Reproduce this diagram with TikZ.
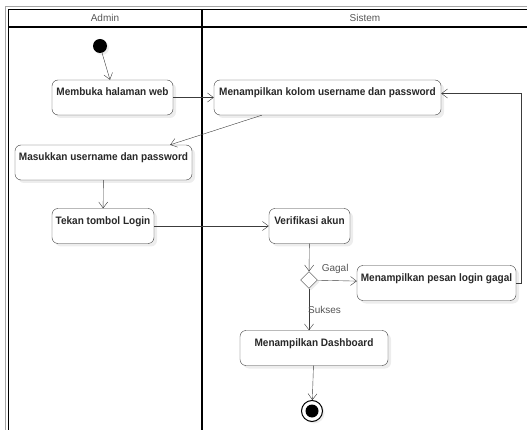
\documentclass[tikz,border=0pt]{standalone}
\usepackage{fontspec}
\setmainfont{Liberation Sans}
\newfontfamily\actfont[FakeStretch=0.93]{Liberation Sans}
\usetikzlibrary{shapes.geometric,shadows,arrows.meta}

\begin{document}
\begin{tikzpicture}[x=1pt, y=-1pt,
  act/.style={draw=linegray, rounded corners=6pt, fill=white, text=textgray,
    font=\actfont\bfseries\fontsize{10.8}{12}\selectfont, inner xsep=3pt, inner ysep=8pt,
    text height=7.7pt, text depth=11.3pt, minimum height=35pt,
    drop shadow={shadow xshift=3pt, shadow yshift=-3pt, fill=black!7, opacity=1}},
  flow/.style={draw=linegray, -{Straight Barb[length=6pt, width=9pt]}},
  lane/.style={draw=black, line width=1.2pt},
  guard/.style={font=\fontsize{10}{12}\selectfont, text=guardgray}
]

% Colours of the drawing
\definecolor{linegray}{RGB}{60,60,60}
\definecolor{textgray}{RGB}{40,40,40}
\definecolor{guardgray}{RGB}{85,85,85}

\useasboundingbox (0,0) rectangle (527,430);

% Swimlanes (frame cut off at right and bottom)
\draw[gray!70, line width=0.8pt] (5,430) -- (5,6) -- (527,6);
\draw[lane] (8.5,430) -- (8.5,9.5) -- (527,9.5);
\draw[lane] (8.5,27) -- (527,27);
\draw[lane] (202,9.5) -- (202,430);
\node[guard] (adminlane) at (105,18) {Admin};
\node[guard] (sistemlane) at (365,18) {Sistem};

% Start and end
\node[circle, fill=black, minimum size=14pt, inner sep=0pt,
  drop shadow={shadow xshift=2pt, shadow yshift=-2pt, fill=black!7, opacity=1}] (init) at (100,46) {};
\node[circle, draw=black, line width=1pt, fill=white, minimum size=21pt, inner sep=0pt,
  drop shadow={shadow xshift=2pt, shadow yshift=-2pt, fill=black!7, opacity=1},
  path picture={\fill[black] (path picture bounding box.center) circle (6.5pt);}] (final) at (312,411) {};

% Activities
\node[act, minimum width=121pt] (membuka) at (112.5,97.5) {Membuka halaman web};
\node[act, minimum width=227pt] (kolom) at (327.5,97.5) {Menampilkan kolom username dan password};
\node[act, minimum width=177pt] (masuk) at (103.5,162.5) {Masukkan username dan password};
\node[act, minimum width=102pt] (tekan) at (103,226) {Tekan tombol Login};
\node[act, minimum width=81pt] (verif) at (309.5,226) {Verifikasi akun};
\node[act, minimum width=159pt] (pesan) at (436.5,283) {Menampilkan pesan login gagal};
\node[act, minimum width=148pt] (dash) at (314,348) {Menampilkan Dashboard};

% Decision
\node[diamond, draw=linegray, fill=white, minimum size=17pt, inner sep=0pt,
  drop shadow={shadow xshift=2pt, shadow yshift=-2pt, fill=black!7, opacity=1}] (dia) at (309,280) {};

% Flows
\draw[flow] (init) -- ([xshift=-2.5pt]membuka.north);
\draw[flow] (membuka) -- (kolom);
\draw[flow] ([xshift=48pt]kolom.south west) -- ([xshift=-22pt]masuk.north east);
\draw[flow] (masuk) -- (tekan);
\draw[flow] (tekan) -- (verif);
\draw[flow] (verif) -- (dia);
\draw[flow] (dia) -- node[guard, above=4pt, pos=0.45] {Gagal} (pesan);
\draw[flow] (dia.south) -- node[guard, right, inner sep=0pt, pos=0.5, xshift=-1pt] {Sukses} (dia.south |- dash.north);
\draw[flow] (dash) -- (final);
\draw[flow] (pesan.east) -- ++(5,0) |- ([yshift=4pt]kolom.east);

\end{tikzpicture}
\end{document}
